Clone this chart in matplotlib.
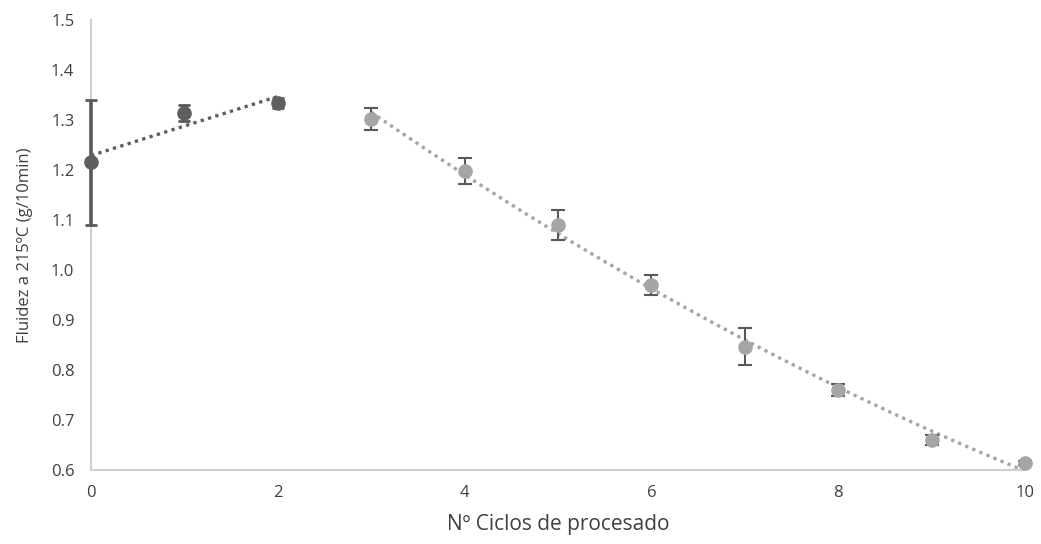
import numpy as np
import matplotlib
matplotlib.use("Agg")
import matplotlib.pyplot as plt

plt.rcParams['font.family'] = ['Open Sans', 'DejaVu Sans']

# Melt flow at 215 ºC versus number of processing cycles
cycles_a = [0, 1, 2]
flow_a = [1.216, 1.314, 1.334]
err_a = [0.125, 0.016, 0.010]

cycles_b = [3, 4, 5, 6, 7, 8, 9, 10]
flow_b = [1.302, 1.198, 1.090, 0.971, 0.847, 0.761, 0.660, 0.615]
err_b = [0.022, 0.026, 0.030, 0.020, 0.037, 0.012, 0.010, 0.004]

x_ticks = [0, 2, 4, 6, 8, 10]
y_ticks = [0.6, 0.7, 0.8, 0.9, 1.0, 1.1, 1.2, 1.3, 1.4, 1.5]

dark = '#5f5f5f'
light = '#a5a5a5'
err_col = '#595959'
axis_col = '#cfcfcf'
text_col = '#404040'

fig = plt.figure(figsize=(10.41, 5.44), dpi=100)
ax = fig.add_axes([91 / 1041, 1 - 470 / 544, (1025 - 91) / 1041, (470 - 20) / 544])

# trend lines: linear for the first cycles, polynomial (order 2) afterwards
for xs, ys, col, deg in ((cycles_a, flow_a, dark, 1), (cycles_b, flow_b, light, 2)):
    coef = np.polyfit(xs, ys, deg)
    xx = np.linspace(xs[0], xs[-1], 200)
    ax.plot(xx, np.polyval(coef, xx), linestyle=(0, (1, 1.3)), color=col,
            lw=2.4, zorder=2)

ax.errorbar(cycles_a, flow_a, yerr=err_a, fmt='o', ms=9.5, color=dark,
            ecolor=err_col, elinewidth=2.6, capsize=4.5, capthick=2.0,
            zorder=3, clip_on=False)
ax.errorbar(cycles_b, flow_b, yerr=err_b, fmt='o', ms=9.5, color=light,
            ecolor=err_col, elinewidth=1.5, capsize=5, capthick=1.5,
            zorder=3, clip_on=False)

ax.set_xlim(0, 10)
ax.set_ylim(0.6, 1.5)
ax.set_xticks(x_ticks)
ax.set_xticklabels([str(v) for v in x_ticks])
ax.set_yticks(y_ticks)
ax.set_yticklabels([f'{v:.1f}' for v in y_ticks])
ax.tick_params(length=0, labelsize=12, colors=text_col)
ax.tick_params(axis='x', pad=11)
ax.tick_params(axis='y', pad=12)

for side in ('top', 'right'):
    ax.spines[side].set_visible(False)
for side in ('left', 'bottom'):
    ax.spines[side].set_color(axis_col)
    ax.spines[side].set_linewidth(1.5)

ax.set_xlabel('Nº Ciclos de procesado', fontsize=15, color=text_col, labelpad=9)
ax.set_ylabel('Fluidez a 215ºC (g/10min)', fontsize=12, color=text_col, labelpad=13)

fig.savefig('out.png', dpi=100, facecolor='white')
